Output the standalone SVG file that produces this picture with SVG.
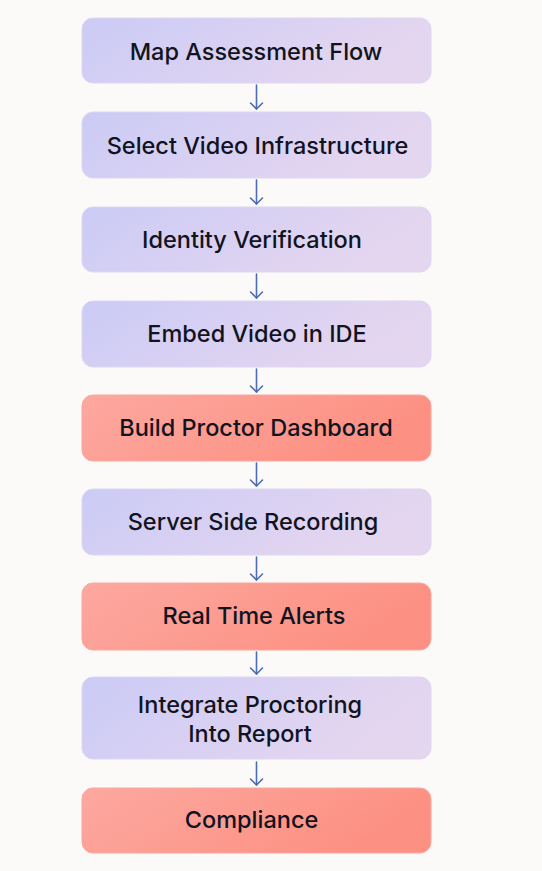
<svg xmlns="http://www.w3.org/2000/svg" width="542" height="871" viewBox="0 0 542 871">
<defs>
<linearGradient id="gp" x1="0" y1="0" x2="1" y2="0.3">
<stop offset="0" stop-color="#cbcbf6"/>
<stop offset="1" stop-color="#e5d6ef"/>
</linearGradient>
<linearGradient id="gr" x1="0" y1="0" x2="1" y2="0.3">
<stop offset="0" stop-color="#fda8a0"/>
<stop offset="1" stop-color="#fc9082"/>
</linearGradient>
<style>
.p{fill:url(#gp);stroke:#ddd6f3;stroke-width:1}
.r{fill:url(#gr);stroke:#f9a89e;stroke-width:1}
text{font-family:Inter,"Noto Sans","Liberation Sans",sans-serif;font-size:23.5px;font-weight:500;fill:#111420;text-anchor:middle}
.c line,.c path{stroke:#4a6db3;stroke-width:1.6;fill:none;stroke-linecap:round;stroke-linejoin:round}
</style>
</defs>
<rect width="542" height="871" fill="#fcfaf8"/>
<g class="c" id="connectors">
<line x1="256.5" y1="85" x2="256.5" y2="109"/><path d="M250.5 103 L256.5 109 L262.5 103"/>
<line x1="256.5" y1="180" x2="256.5" y2="204"/><path d="M250.5 198 L256.5 204 L262.5 198"/>
<line x1="256.5" y1="274" x2="256.5" y2="298"/><path d="M250.5 292 L256.5 298 L262.5 292"/>
<line x1="256.5" y1="369" x2="256.5" y2="392"/><path d="M250.5 386 L256.5 392 L262.5 386"/>
<line x1="256.5" y1="463" x2="256.5" y2="486"/><path d="M250.5 480 L256.5 486 L262.5 480"/>
<line x1="256.5" y1="557" x2="256.5" y2="580"/><path d="M250.5 574 L256.5 580 L262.5 574"/>
<line x1="256.5" y1="652" x2="256.5" y2="674"/><path d="M250.5 668 L256.5 674 L262.5 668"/>
<line x1="256.5" y1="762" x2="256.5" y2="785"/><path d="M250.5 779 L256.5 785 L262.5 779"/>
</g>
<g id="n1"><rect class="p" x="82" y="18" width="349" height="65" rx="11"/><text x="256" y="59.5">Map Assessment Flow</text></g>
<g id="n2"><rect class="p" x="82" y="112" width="349" height="66" rx="11"/><text x="257.5" y="154">Select Video Infrastructure</text></g>
<g id="n3"><rect class="p" x="82" y="207" width="349" height="65" rx="11"/><text x="252" y="248">Identity Verification</text></g>
<g id="n4"><rect class="p" x="82" y="301" width="349" height="66" rx="11"/><text x="257" y="342">Embed Video in IDE</text></g>
<g id="n5"><rect class="r" x="82" y="395" width="349" height="66" rx="11"/><text x="256" y="436">Build Proctor Dashboard</text></g>
<g id="n6"><rect class="p" x="82" y="489" width="349" height="66" rx="11"/><text x="253" y="530">Server Side Recording</text></g>
<g id="n7"><rect class="r" x="82" y="583" width="349" height="67" rx="11"/><text x="254" y="624">Real Time Alerts</text></g>
<g id="n8"><rect class="p" x="82" y="677" width="349" height="82" rx="11"/><text x="250" y="713">Integrate Proctoring</text><text x="250" y="742">Into Report</text></g>
<g id="n9"><rect class="r" x="82" y="788" width="349" height="65" rx="11"/><text x="251.5" y="828">Compliance</text></g>
</svg>
